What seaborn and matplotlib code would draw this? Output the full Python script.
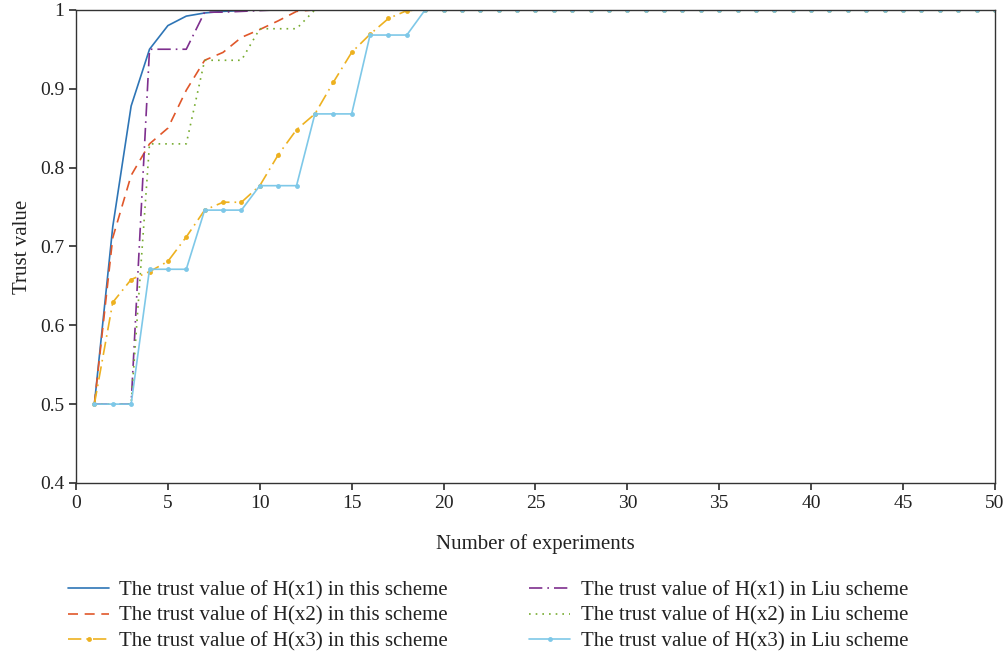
import numpy as np
import pandas as pd
import matplotlib
matplotlib.use("Agg")
import matplotlib.pyplot as plt
import seaborn as sns

# Data (experiments 1..50, all values reach 1.0 after)
experiments = list(range(1, 51))

x1_this = [0.5, 0.725, 0.878, 0.95, 0.98, 0.992, 0.996, 0.998, 0.999] + [1.0] * 41
x1_liu = [0.5, 0.5, 0.5, 0.95, 0.95, 0.95, 0.997, 0.997, 0.998, 0.999] + [1.0] * 40
x2_this = [0.5, 0.711, 0.79, 0.83, 0.85, 0.898, 0.936, 0.946, 0.965, 0.975,
           0.986, 0.998] + [1.0] * 38
x2_liu = [0.5, 0.5, 0.5, 0.83, 0.83, 0.83, 0.936, 0.936, 0.936, 0.976,
          0.976, 0.976] + [1.0] * 38
x3_this = [0.5, 0.629, 0.658, 0.668, 0.681, 0.712, 0.746, 0.756, 0.756, 0.777,
           0.816, 0.848, 0.868, 0.908, 0.946, 0.969, 0.989, 0.999] + [1.0] * 32
x3_liu = [0.5, 0.5, 0.5, 0.671, 0.671, 0.671, 0.746, 0.746, 0.746, 0.777,
          0.777, 0.777, 0.868, 0.868, 0.868, 0.968, 0.968, 0.968] + [1.0] * 32

labels = [
    "The trust value of H(x1) in this scheme",
    "The trust value of H(x2) in this scheme",
    "The trust value of H(x3) in this scheme",
    "The trust value of H(x1) in Liu scheme",
    "The trust value of H(x2) in Liu scheme",
    "The trust value of H(x3) in Liu scheme",
]
series = [x1_this, x2_this, x3_this, x1_liu, x2_liu, x3_liu]
colors = ["#2e75b6", "#e0572a", "#edb120", "#7e2f8e", "#77ac30", "#7ec8e8"]
styles = ["-", (0, (6, 4)), (0, (8, 3, 1, 3)), (0, (8, 3, 1, 3)), (0, (1, 3)), "-"]
markers = [None, None, "o", None, None, "o"]

sns.set_theme(style="ticks")
plt.rcParams["font.family"] = ["Liberation Serif", "DejaVu Serif"]

fig, ax = plt.subplots(figsize=(10.08, 6.54), dpi=100)
fig.subplots_adjust(left=0.0754, right=0.987, top=0.985, bottom=0.2615)

for vals, lab, c, ls, m in zip(series, labels, colors, styles, markers):
    df = pd.DataFrame({"exp": experiments, "trust": vals})
    sns.lineplot(data=df, x="exp", y="trust", ax=ax, color=c, linestyle=ls,
                 linewidth=1.2, marker=m, markersize=3.5, markeredgewidth=0,
                 label=lab, legend=False)

ax.set_xlim(0, 50)
ax.set_ylim(0.4, 1.0)
ax.set_xticks(np.arange(0, 51, 5))
ax.set_yticks([0.4, 0.5, 0.6, 0.7, 0.8, 0.9, 1.0])
ax.set_yticklabels(["0.4", "0.5", "0.6", "0.7", "0.8", "0.9", "1"])
ax.tick_params(labelsize=14, length=5, color="#333333", labelcolor="#222222")
ax.set_xlabel("Number of experiments", fontsize=15, color="#222222", labelpad=16)
ax.set_ylabel("Trust value", fontsize=15, color="#222222", labelpad=6)
for sp in ax.spines.values():
    sp.set_color("#333333")
    sp.set_linewidth(1.0)

handles, _ = ax.get_legend_handles_labels()
fig.legend(handles, labels, loc="upper left", bbox_to_anchor=(0.0493, 0.141),
           ncol=2, frameon=False, fontsize=15, columnspacing=3.9,
           handlelength=1.95, handletextpad=0.5, labelspacing=0.3,
           labelcolor="#222222")

fig.savefig("out.png", dpi=100)
